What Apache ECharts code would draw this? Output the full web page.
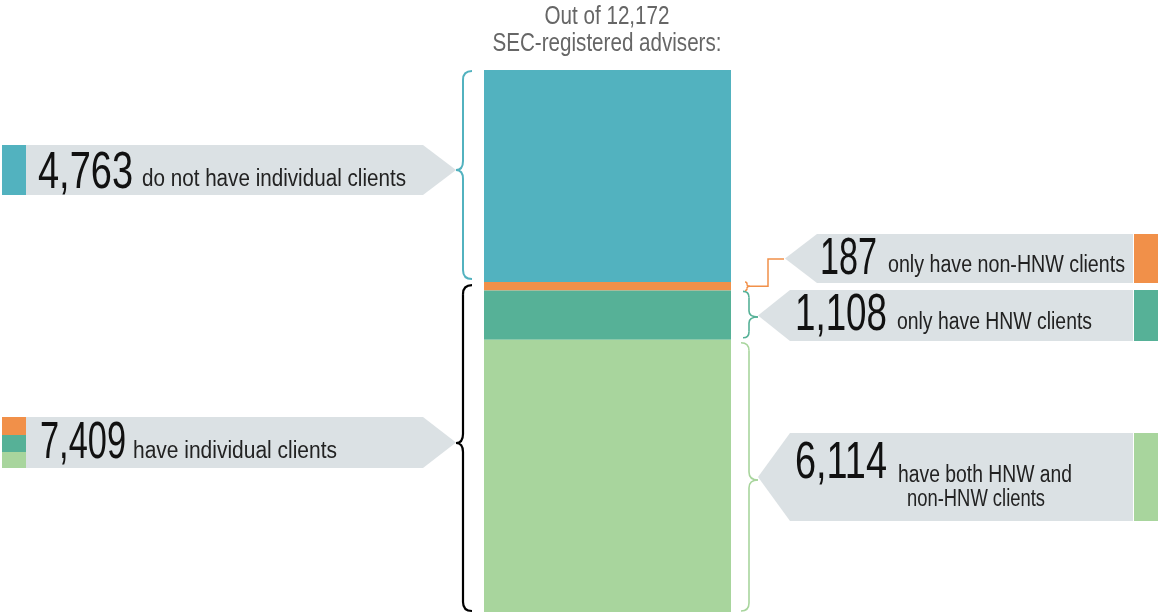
<!DOCTYPE html>
<html>
<head>
<meta charset="utf-8">
<script src="https://cdn.jsdelivr.net/npm/echarts@6/dist/echarts.min.js"></script>
<style>
  html, body { margin: 0; padding: 0; background: #fff; }
  #main { width: 1159px; height: 613px; }
</style>
</head>
<body>
<div id="main"></div>
<script>
// data
var categories = ['advisers'];
var segNames = ['do not have individual clients', 'only have non-HNW clients', 'only have HNW clients', 'have both HNW and non-HNW clients'];
var segValues = [4763, 187, 1108, 6114];
var totalAdvisers = 12172;
var individualTotal = 7409;

var segColors = ['#52b2bf', '#f19049', '#56b197', '#a8d59d'];
var FONT_NAME = '"Liberation Sans", Arial, sans-serif';
var GREY = '#dbe1e4';

function fmt(n) { return n.toLocaleString('en-US'); }

var chart = echarts.init(document.getElementById('main'));

var series = segValues.map(function (v, i) {
    return {
        name: segNames[i],
        type: 'bar',
        stack: 'all',
        barWidth: '100%',
        silent: true,
        itemStyle: { color: segColors[i] },
        data: [v]
    };
});

chart.setOption({
    animation: false,
    backgroundColor: '#fff',
    grid: { left: 484, width: 247, top: 70, height: 542 },
    xAxis: { type: 'category', data: categories, show: false },
    yAxis: { type: 'value', inverse: true, min: 0, max: totalAdvisers, show: false },
    series: series
});

// pixel y of a cumulative value
function py(v) { return chart.convertToPixel({ gridIndex: 0 }, [0, v])[1]; }
var cum = [0];
segValues.forEach(function (v, i) { cum.push(cum[i] + v); });
var yb = cum.map(py);

// brace: vertical line at x, tip pointing dir (-1 left, +1 right)
function brace(x, y0, y1, ym, dir, tipLen, r, color, w) {
    var ex = x - dir * r;
    var tx = x + dir * tipLen;
    var st = { stroke: color, lineWidth: w || 2, fill: null };
    function q(x1, y1, cx, cy, x2, y2) {
        return { type: 'bezierCurve', silent: true, shape: { x1: x1, y1: y1, x2: x2, y2: y2, cpx1: cx, cpy1: cy }, style: st };
    }
    function l(x1, y1, x2, y2) {
        return { type: 'line', silent: true, shape: { x1: x1, y1: y1, x2: x2, y2: y2 }, style: st };
    }
    return [
        q(ex, y0, x, y0, x, y0 + r),
        l(x, y0 + r, x, ym - r),
        q(x, ym - r, x, ym, tx, ym),
        q(tx, ym, x, ym, x, ym + r),
        l(x, ym + r, x, y1 - r),
        q(x, y1 - r, x, y1, ex, y1)
    ];
}

function arrowLeft(x0, x1, y0, y1, tip) {  // box pointing right
    var ym = (y0 + y1) / 2;
    return { type: 'polygon', silent: true, shape: { points: [[x0, y0], [x1, y0], [tip, ym], [x1, y1], [x0, y1]] }, style: { fill: GREY } };
}
function arrowRight(x0, x1, y0, y1, tip) { // box pointing left
    var ym = (y0 + y1) / 2;
    return { type: 'polygon', silent: true, shape: { points: [[tip, ym], [x0, y0], [x1, y0], [x1, y1], [x0, y1]] }, style: { fill: GREY } };
}
function rect(x, y, w, h, c) {
    return { type: 'rect', silent: true, shape: { x: x, y: y, width: w, height: h }, style: { fill: c } };
}

// condensed text: squeeze a regular face to the width seen in the picture
var mctx = document.createElement('canvas').getContext('2d');
function txt(s, x, y, size, color, width, align) {
    var font = size + 'px ' + FONT_NAME;
    mctx.font = font;
    var sx = width / mctx.measureText(s).width;
    return {
        type: 'text', silent: true,
        x: x, y: y, scaleX: sx, scaleY: 1,
        style: { text: s, x: 0, y: 0, font: font, fill: color, align: align || 'left', verticalAlign: 'middle' }
    };
}

var g = [];
// title
g.push(txt('Out of ' + fmt(totalAdvisers), 607, 17, 25, '#666', 125, 'center'));
g.push(txt('SEC-registered advisers:', 607, 44, 25, '#666', 229, 'center'));

// left callout 1
g.push(rect(2, 145, 24, 50, segColors[0]));
g.push(arrowLeft(26, 423, 145, 195, 456));
g.push(txt(fmt(segValues[0]), 38, 174, 52, '#111', 95));
g.push(txt(segNames[0], 142, 180, 23, '#222', 264));

// left callout 2
g.push(rect(2, 417, 24, 18, segColors[1]));
g.push(rect(2, 435, 24, 17, segColors[2]));
g.push(rect(2, 452, 24, 16, segColors[3]));
g.push(arrowLeft(26, 423, 417, 468, 456));
g.push(txt(fmt(individualTotal), 40, 444, 52, '#111', 86));
g.push(txt('have individual clients', 133, 452, 23, '#222', 204));

// left braces
g = g.concat(brace(463, yb[0] + 1, yb[1] - 3, 170, -1, 7, 9, segColors[0], 2));
g = g.concat(brace(463, yb[1] + 3, yb[4] - 1, 443, -1, 7, 9, '#000', 2.2));

// right callout 187
g.push(arrowRight(817, 1133, 234, 283, 785));
g.push(rect(1134, 234, 24, 49, segColors[1]));
g.push(txt(fmt(segValues[1]), 820, 260, 52, '#111', 57));
g.push(txt(segNames[1], 888, 266, 23, '#222', 237));
var yo = (yb[1] + yb[2]) / 2;
g = g.concat(brace(747, yb[1], yb[2], yo, 1, 3, 2, segColors[1], 1.5));
g.push({ type: 'polyline', silent: true, shape: { points: [[750, yo], [768, yo], [768, 259], [784, 259]] }, style: { stroke: segColors[1], lineWidth: 1.5, fill: null } });

// right callout 1,108
g.push(arrowRight(790, 1133, 290, 341, 758));
g.push(rect(1134, 290, 24, 51, segColors[2]));
g.push(txt(fmt(segValues[2]), 795, 316, 52, '#111', 92));
g.push(txt(segNames[2], 897, 323, 23, '#222', 195));
g = g.concat(brace(749, yb[2] + 1, yb[3] - 2, 317, 1, 9, 6, segColors[2], 1.6));

// right callout 6,114
g.push(arrowRight(790, 1133, 433, 521, 758));
g.push(rect(1134, 433, 24, 88, segColors[3]));
g.push(txt(fmt(segValues[3]), 795, 464, 52, '#111', 92));
g.push(txt('have both HNW and', 985, 476, 23, '#222', 174, 'center'));
g.push(txt('non-HNW clients', 976, 500, 23, '#222', 138, 'center'));
g = g.concat(brace(749, yb[3] + 3, yb[4] - 1, 480, 1, 9, 8, segColors[3], 1.6));

chart.setOption({ graphic: { elements: g } });
</script>
</body>
</html>
